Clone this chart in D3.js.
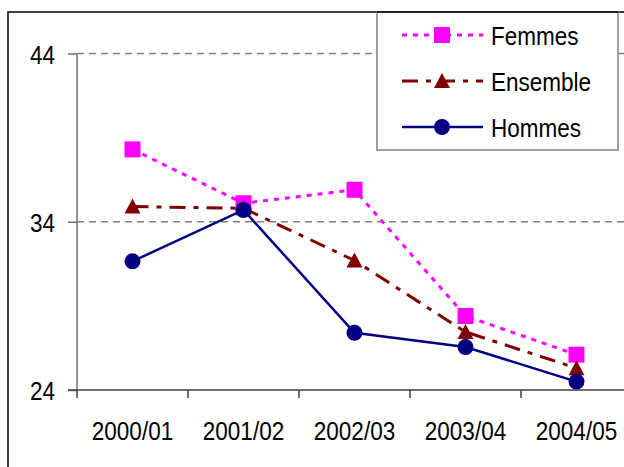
<!DOCTYPE html>
<html>
<head>
<meta charset="utf-8">
<script src="https://cdn.jsdelivr.net/npm/d3@7"></script>
<style>
  html, body { margin: 0; padding: 0; background: #fff; }
  svg { display: block; }
  text { font-family: "Liberation Sans", Arial, sans-serif; }
</style>
</head>
<body>
<svg id="chart" width="624" height="467"></svg>
<script>
// Taux par année scolaire
const categories = ["2000/01", "2001/02", "2002/03", "2003/04", "2004/05"];
const femmes   = [38.3, 35.1, 35.9, 28.4, 26.1];
const ensemble = [34.9, 34.8, 31.7, 27.45, 25.3];
const hommes   = [31.65, 34.7, 27.4, 26.55, 24.5];
const yTicks = [24, 34, 44];

const series = [
  { name: "Femmes",   values: femmes,   color: "#FF00FF", dash: "5,6",      width: 3,   marker: "square" },
  { name: "Ensemble", values: ensemble, color: "#800000", dash: "16,8,5,8", width: 3,   marker: "triangle" },
  { name: "Hommes",   values: hommes,   color: "#000080", dash: null,       width: 2.5, marker: "circle" }
];

const FONT_SIZE = 26.5;
const NARROW = 0.85;   // horizontal squeeze for a narrow sans look

// Squeeze text horizontally while keeping its anchor point in place
function narrow(sel) {
  sel.each(function () {
    const t = d3.select(this);
    const x0 = +(t.attr("x") || 0);
    t.attr("x", x0 / NARROW).attr("transform", `scale(${NARROW},1)`);
  });
}

const svg = d3.select("#chart");

// Plot area geometry
const plot = { left: 77, right: 632, top: 53.5, bottom: 390 };

const x = d3.scaleBand().domain(categories).range([plot.left, plot.right]).padding(0);
const y = d3.scaleLinear().domain([24, 44]).range([plot.bottom, plot.top]);
const cx = c => x(c) + x.bandwidth() / 2;

// Outer chart frame
svg.append("rect")
  .attr("x", 8).attr("y", 12)
  .attr("width", 700).attr("height", 600)
  .attr("fill", "#fff")
  .attr("stroke", "#000").attr("stroke-width", 1.5);

// Horizontal gridlines
svg.append("g")
  .selectAll("line")
  .data(yTicks.filter(t => t > 24))
  .join("line")
  .attr("x1", plot.left).attr("x2", 640)
  .attr("y1", d => y(d)).attr("y2", d => y(d))
  .attr("stroke", "#808080").attr("stroke-width", 1.5)
  .attr("stroke-dasharray", "7,5");

// Y axis
const yAxis = svg.append("g")
  .attr("transform", `translate(${plot.left},0)`)
  .call(d3.axisLeft(y).tickValues(yTicks).tickSize(9).tickPadding(13).tickFormat(d3.format("d")));
yAxis.select(".domain").attr("stroke", "#707070").attr("stroke-width", 1.5).attr("d", `M0,${plot.top}V${plot.bottom}`);
yAxis.selectAll(".tick line").attr("stroke", "#707070").attr("stroke-width", 1.5);
yAxis.selectAll(".tick text")
  .attr("font-size", FONT_SIZE).attr("fill", "#000")
  .attr("font-family", "\"Liberation Sans\", Arial, sans-serif")
  .attr("dy", "0.36em")
  .call(narrow);

// X axis: labels centred on categories, ticks at category boundaries
const xAxis = svg.append("g")
  .attr("transform", `translate(0,${plot.bottom})`)
  .call(d3.axisBottom(x).tickSize(0).tickPadding(0));
xAxis.select(".domain").attr("stroke", "#404040").attr("stroke-width", 1.5).attr("d", `M${plot.left - 9},0H640`);
xAxis.selectAll(".tick text")
  .attr("font-size", FONT_SIZE).attr("fill", "#000")
  .attr("font-family", "\"Liberation Sans\", Arial, sans-serif")
  .attr("y", 40).attr("dy", "0.36em")
  .call(narrow);

svg.append("g")
  .selectAll("line")
  .data(categories)
  .join("line")
  .attr("x1", d => x(d)).attr("x2", d => x(d))
  .attr("y1", plot.bottom).attr("y2", plot.bottom + 8)
  .attr("stroke", "#404040").attr("stroke-width", 1.5);

// Marker drawing helper
function drawMarker(g, type, color, px, py) {
  if (type === "square") {
    g.append("rect").attr("x", px - 8).attr("y", py - 8).attr("width", 16).attr("height", 16)
      .attr("fill", color);
  } else if (type === "triangle") {
    g.append("path").attr("d", `M${px},${py - 8}L${px + 8},${py + 7}L${px - 8},${py + 7}Z`)
      .attr("fill", color);
  } else {
    g.append("circle").attr("cx", px).attr("cy", py).attr("r", 8).attr("fill", color);
  }
}

const line = d3.line().x(d => cx(d.c)).y(d => y(d.v));

series.forEach(s => {
  const pts = categories.map((c, i) => ({ c, v: s.values[i] }));
  const g = svg.append("g");
  g.append("path")
    .datum(pts)
    .attr("d", line)
    .attr("fill", "none")
    .attr("stroke", s.color)
    .attr("stroke-width", s.width)
    .attr("stroke-dasharray", s.dash);
  pts.forEach(p => drawMarker(g, s.marker, s.color, cx(p.c), y(p.v)));
});

// Legend
const legend = svg.append("g");
legend.append("rect")
  .attr("x", 377).attr("y", 12).attr("width", 241).attr("height", 138)
  .attr("fill", "#fff").attr("stroke", "#808080").attr("stroke-width", 1.5);
legend.append("line").attr("x1", 377).attr("x2", 618).attr("y1", 12).attr("y2", 12)
  .attr("stroke", "#000").attr("stroke-width", 1.5);

series.forEach((s, i) => {
  const ly = 35 + i * 46;
  const g = legend.append("g");
  g.append("line")
    .attr("x1", 402).attr("x2", 483).attr("y1", ly).attr("y2", ly)
    .attr("stroke", s.color).attr("stroke-width", s.width)
    .attr("stroke-dasharray", s.dash);
  drawMarker(g, s.marker, s.color, 442, ly);
  g.append("text")
    .attr("x", 491).attr("y", ly)
    .attr("dy", "0.36em")
    .attr("font-size", FONT_SIZE)
    .attr("fill", "#000")
    .text(s.name)
    .call(narrow);
});
</script>
</body>
</html>
